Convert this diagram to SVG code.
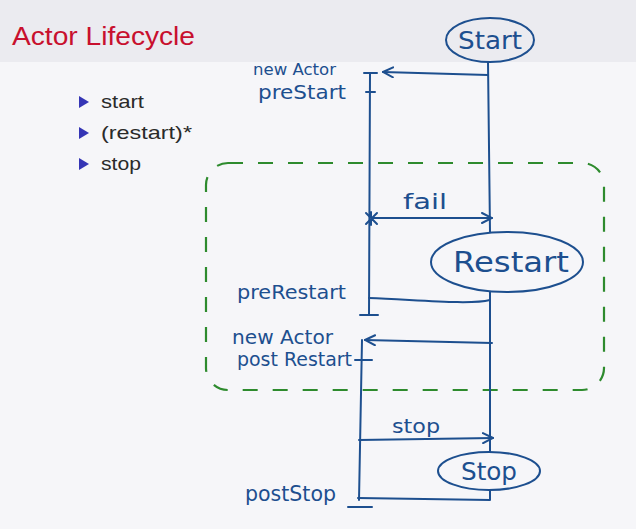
<svg xmlns="http://www.w3.org/2000/svg" width="636" height="529" viewBox="0 0 636 529">
<defs>
<style>
.ink{fill:none;stroke:#1d4f8f;stroke-width:2;stroke-linecap:round;stroke-linejoin:round}
.hw{font-family:"DejaVu Sans","Noto Sans",sans-serif;fill:#1d4f8f;font-weight:normal}
.bl{font-family:"Liberation Sans","Noto Sans",sans-serif;font-size:18.5px;fill:#2a2a2a}
.dash{fill:none;stroke:#2e8b2e;stroke-width:2.2;stroke-dasharray:15 15}
</style>
<marker id="ah" viewBox="0 0 12 12" refX="11" refY="6" markerWidth="12" markerHeight="12" markerUnits="userSpaceOnUse" orient="auto">
<path d="M1 1 L11 6 L1 11" fill="none" stroke="#1d4f8f" stroke-width="2" stroke-linecap="round"/>
</marker>
</defs>
<rect x="0" y="0" width="636" height="529" fill="#f6f6f9"/>
<rect x="0" y="0" width="636" height="62" fill="#ebebf0"/>
<text x="12" y="45" font-family="Liberation Sans, sans-serif" font-size="25" fill="#c8102e" textLength="183" lengthAdjust="spacingAndGlyphs">Actor Lifecycle</text>
<g id="bullets">
<path d="M79 96 L89 102 L79 108 Z" fill="#3535b5"/>
<path d="M79 127 L89 133 L79 139 Z" fill="#3535b5"/>
<path d="M79 158 L89 164 L79 170 Z" fill="#3535b5"/>
<text class="bl" x="101" y="108" textLength="43" lengthAdjust="spacingAndGlyphs">start</text>
<text class="bl" x="101" y="139" textLength="91" lengthAdjust="spacingAndGlyphs">(restart)*</text>
<text class="bl" x="101" y="170" textLength="40" lengthAdjust="spacingAndGlyphs">stop</text>
</g>
<g id="restart-region">
<rect class="dash" x="206" y="163" width="398" height="227" rx="22"/>
</g>
<g id="start">
<ellipse class="ink" cx="490" cy="40" rx="44" ry="22"/>
<text class="hw" x="490" y="49" font-size="25" text-anchor="middle" textLength="64" lengthAdjust="spacingAndGlyphs">Start</text>
</g>
<g id="restart">
<ellipse class="ink" cx="507" cy="262" rx="76" ry="30"/>
<text class="hw" x="511" y="272" font-size="29" text-anchor="middle" textLength="116" lengthAdjust="spacingAndGlyphs">Restart</text>
</g>
<g id="stop">
<ellipse class="ink" cx="489" cy="471" rx="51" ry="19"/>
<text class="hw" x="489" y="480" font-size="24" text-anchor="middle" textLength="56" lengthAdjust="spacingAndGlyphs">Stop</text>
</g>
<g id="connectors">
<path class="ink" d="M488 62 L490 232"/>
<path class="ink" d="M490 292 L490 452"/>
<path class="ink" d="M370 73 L369 315"/>
<path class="ink" d="M364 73 L377 73"/>
<path class="ink" d="M366 92 L375 92"/>
<path class="ink" d="M360 315 L378 315"/>
<path class="ink" d="M488 75 L383 72" marker-end="url(#ah)"/>
<path class="ink" d="M372 218 L492 218" marker-end="url(#ah)"/>
<path class="ink" d="M366 213 L377 224 M377 213 L366 224 M371 212 L371 225"/>
<path class="ink" d="M369 298 C420 300 470 305 490 300"/>
<path class="ink" d="M492 343 L365 340" marker-end="url(#ah)"/>
<path class="ink" d="M362 340 L359 500"/>
<path class="ink" d="M355 360 L372 360"/>
<path class="ink" d="M359 440 L493 438" marker-end="url(#ah)"/>
<path class="ink" d="M490 490 L490 500 L358 498"/>
<path class="ink" d="M348 507 L372 507"/>
</g>
<g id="labels">
<text class="hw" x="253" y="75" font-size="16" textLength="83" lengthAdjust="spacingAndGlyphs">new Actor</text>
<text class="hw" x="258" y="99" font-size="20" textLength="88" lengthAdjust="spacingAndGlyphs">preStart</text>
<text class="hw" x="403" y="209" font-size="21" textLength="44" lengthAdjust="spacingAndGlyphs">fail</text>
<text class="hw" x="237" y="299" font-size="20" textLength="109" lengthAdjust="spacingAndGlyphs">preRestart</text>
<text class="hw" x="232" y="344" font-size="20" textLength="101" lengthAdjust="spacingAndGlyphs">new Actor</text>
<text class="hw" x="237" y="366" font-size="19" textLength="115" lengthAdjust="spacingAndGlyphs">post Restart</text>
<text class="hw" x="392" y="433" font-size="20" textLength="48" lengthAdjust="spacingAndGlyphs">stop</text>
<text class="hw" x="245" y="501" font-size="21" textLength="91" lengthAdjust="spacingAndGlyphs">postStop</text>
</g>
</svg>
